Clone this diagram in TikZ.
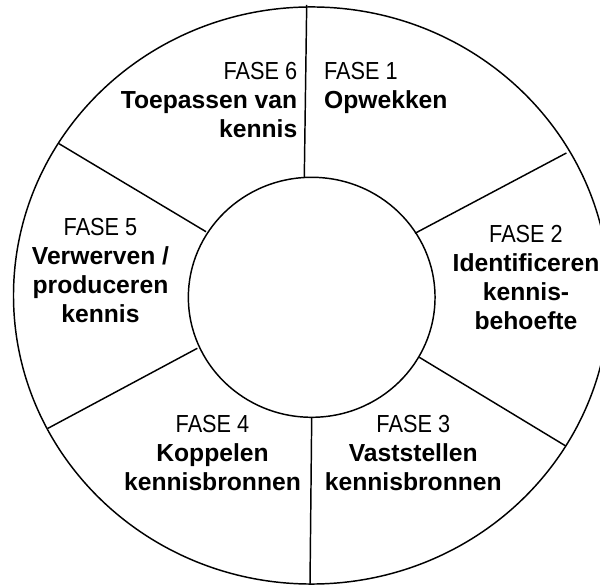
\documentclass[tikz,border=0pt]{standalone}
\usepackage{fontspec}
\setmainfont{Liberation Sans}
\newfontfamily\smalfont[FakeStretch=0.88]{Liberation Sans}
\newcommand{\faselabel}[1]{{\smalfont\mdseries FASE #1}}
\tikzset{
	fase/.style={font=\fontsize{18.5}{21.75}\selectfont\bfseries, inner sep=0pt}
}
\begin{document}
\begin{tikzpicture}[x=0.75pt, y=0.75pt, line width=1.1pt]
		\useasboundingbox (-311.5, -289.5) rectangle (288.5, 295.5);

		% cirkels
		\draw (0, 0) ellipse [x radius=223.5pt, y radius=216.4pt]; % buitenste ring
		\draw (0.2, -1.8) ellipse [x radius=92.5pt, y radius=90pt]; % binnenste cirkel

		% spaken tussen de fasen
		\draw (-7.2, 118) -- (-4.8, 290.5); % fase 6 | fase 1
		\draw (103.5, 62.2) -- (254.9, 142.5); % fase 1 | fase 2
		\draw (107.8, -61.8) -- (254.1, -150.4); % fase 2 | fase 3
		\draw (0.2, -122.5) -- (-1.5, -289.5); % fase 3 | fase 4
		\draw (-114.2, -52.8) -- (-263.7, -132.9); % fase 4 | fase 5
		\draw (-105.5, 63.8) -- (-252.5, 151.8); % fase 5 | fase 6

		% teksten (base = basislijn van de laatste regel)
		\node[fase, align=left, anchor=base west] (f1) at (11.9, 186.5) {\faselabel{1}\\Opwekken};
		\node[fase, align=center, anchor=base] (f2) at (214.5, -34.5) {\faselabel{2}\\Identificeren\\kennis-\\behoefte};
		\node[fase, align=center, anchor=base] (f3) at (101.8, -195) {\faselabel{3}\\Vaststellen\\kennisbronnen};
		\node[fase, align=center, anchor=base] (f4) at (-99, -195) {\faselabel{4}\\Koppelen\\kennisbronnen};
		\node[fase, align=center, anchor=base] (f5) at (-211, -27.5) {\faselabel{5}\\Verwerven /\\produceren\\kennis};
		\node[fase, align=right, anchor=base east] (f6) at (-13.5, 157.5) {\faselabel{6}\\Toepassen van\\kennis};
	\end{tikzpicture}
\end{document}
